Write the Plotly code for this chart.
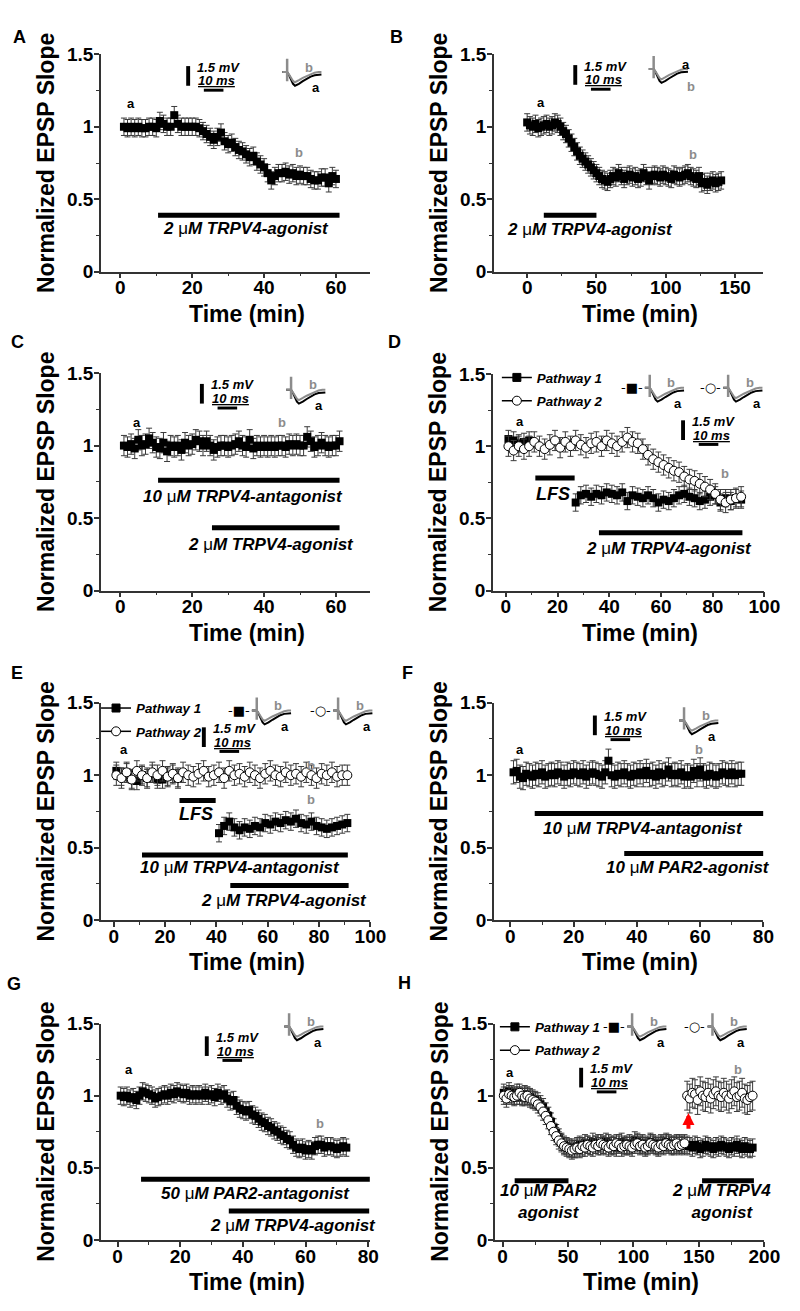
import plotly.graph_objects as go

W, H = 800, 1311
FONT = "Liberation Sans, Arial, Helvetica, sans-serif"
AXIS = "#333333"
ERR = "#3a3a3a"
GRAY = "#8c8c8c"

# ---- recorded values: time (min) and normalized EPSP slope ----
A_time = list(range(1, 61))
A_slope = [1.00, 0.99, 1.00, 0.99, 1.00, 0.99, 0.99, 1.00, 1.00, 0.99,
           1.04, 1.02, 1.00, 1.00, 1.08, 1.02, 1.00, 1.00, 1.00, 1.00,
           1.00, 0.99, 0.97, 0.95, 0.93, 0.91, 0.93, 0.96, 0.90, 0.88,
           0.89, 0.86, 0.84, 0.83, 0.81, 0.79, 0.80, 0.76, 0.74, 0.72,
           0.68, 0.63, 0.66, 0.68, 0.68, 0.69, 0.67, 0.68, 0.66, 0.67,
           0.66, 0.66, 0.64, 0.63, 0.63, 0.65, 0.65, 0.61, 0.66, 0.64]
A_sem = 0.06

B_time = list(range(0, 141, 2))
B_slope = [1.03, 1.01, 1.00, 1.02, 0.99, 1.00, 1.01, 1.02, 1.00, 1.01, 1.03, 1.02, 1.00,
           0.97, 0.95, 0.92, 0.89, 0.86, 0.83, 0.80, 0.78, 0.76, 0.74, 0.72, 0.70,
           0.68, 0.66, 0.64, 0.63, 0.62, 0.64,
           0.66, 0.65, 0.68, 0.66, 0.64, 0.66, 0.67, 0.65, 0.66, 0.64,
           0.65, 0.68, 0.66, 0.63, 0.66, 0.67, 0.66, 0.65, 0.67, 0.66,
           0.65, 0.64, 0.67, 0.66, 0.65, 0.66, 0.67, 0.68, 0.66, 0.65,
           0.64, 0.66,
           0.61, 0.62, 0.60, 0.62, 0.63, 0.61, 0.62, 0.63]
B_sem = 0.06

C_time = list(range(1, 62))
C_slope = [1.00, 0.99, 1.01, 0.98, 1.04, 1.00, 1.01, 1.05, 1.02, 0.99,
           0.98, 1.02, 0.96, 1.00, 0.99, 1.00, 0.97, 1.02, 1.00, 1.01,
           1.04, 1.03, 1.00, 1.03, 1.00, 0.97, 0.99, 1.00, 1.00, 0.99,
           1.00, 1.01, 1.03, 1.00, 0.99, 1.04, 0.98, 1.00, 0.99, 1.00,
           0.99, 1.00, 0.99, 1.00, 1.00, 0.99, 1.01, 1.00, 1.01, 1.00,
           1.00, 1.06, 1.03, 0.99, 1.00, 1.02, 1.00, 0.99, 1.00, 1.00, 1.03]
C_sem = 0.07

D_p1_time = [1, 3, 5, 7, 9] + list(range(27, 92, 2))
D_p1 = [1.05, 1.04, 1.02, 1.03, 1.04,
        0.61, 0.66, 0.67, 0.65, 0.67, 0.66, 0.68, 0.67, 0.66, 0.68,
        0.62, 0.66, 0.65, 0.64, 0.66, 0.64, 0.61, 0.63, 0.62, 0.64,
        0.66, 0.67, 0.65, 0.64, 0.62, 0.63, 0.65, 0.66, 0.61, 0.64,
        0.62, 0.64, 0.63]
D_p2_time = list(range(1, 92, 2))
D_p2 = [1.00, 0.97, 1.00, 0.98, 1.00, 1.03, 1.00, 0.98, 1.01, 1.04,
        0.99, 1.03, 1.00, 1.04, 1.01, 0.99, 1.02, 1.03, 1.00, 1.04,
        1.02, 1.00, 1.03, 1.06, 1.03, 1.02, 0.98, 0.94, 0.91, 0.89,
        0.87, 0.85, 0.83, 0.82, 0.79, 0.77, 0.76, 0.74, 0.72, 0.70,
        0.67, 0.63, 0.61, 0.63, 0.64, 0.65]
D_sem = (0.06, 0.07)

E_p1_time = list(range(1, 26, 2)) + list(range(41, 92, 2))
E_p1 = [1.03, 0.99, 1.02, 0.97, 0.96, 1.00, 0.98, 1.01, 0.97, 0.97, 0.99, 1.01, 0.98,
        0.60, 0.65, 0.68, 0.64, 0.62, 0.64, 0.63, 0.65, 0.64, 0.67,
        0.66, 0.68, 0.67, 0.69, 0.68, 0.70, 0.67, 0.66, 0.68, 0.65,
        0.64, 0.63, 0.64, 0.65, 0.66, 0.67]
E_p2_time = list(range(1, 92, 2))
E_p2 = [1.00, 0.98, 1.02, 0.97, 1.03, 1.00, 0.98, 1.02, 1.00, 1.03,
        0.99, 1.01, 0.98, 1.02, 1.00, 0.99, 1.01, 1.03, 0.99, 1.00,
        1.02, 0.98, 1.03, 1.00, 1.01, 0.99, 1.02, 1.00, 0.98, 1.01,
        1.03, 1.00, 0.99, 1.02, 1.00, 1.01, 0.99, 1.02, 1.00, 0.98,
        1.01, 1.00, 1.02, 0.99, 1.00, 1.00]
E_sem = (0.06, 0.07)

F_time = list(range(1, 74))
F_slope = [1.02, 1.03, 0.99, 0.98, 1.01, 1.00, 0.99, 1.01, 1.00, 1.02,
           0.99, 1.00, 1.01, 1.00, 1.02, 1.01, 0.99, 1.01, 1.00, 1.02,
           1.01, 1.00, 1.02, 0.99, 1.01, 1.02, 1.01, 1.00, 0.99, 1.02,
           1.10, 1.00, 0.99, 1.01, 1.00, 1.02, 1.00, 0.99, 1.01, 1.00,
           1.02, 1.00, 1.03, 1.00, 1.01, 0.99, 1.02, 1.00, 1.01, 1.04,
           1.00, 1.01, 1.00, 1.02, 0.99, 1.00, 0.99, 1.03, 1.00, 1.04,
           1.00, 0.99, 1.01, 1.00, 0.99, 1.00, 1.02, 1.01, 1.00, 1.02,
           1.00, 1.01, 1.01]
F_sem = 0.08

G_time = list(range(1, 74))
G_slope = [1.00, 0.99, 1.00, 0.98, 0.99, 0.97, 1.00, 1.03, 1.02, 1.01,
           1.00, 0.98, 0.99, 1.00, 1.01, 1.00, 1.02, 1.01, 1.03, 1.02,
           1.01, 1.02, 1.00, 1.01, 1.00, 1.01, 1.00, 1.02, 1.00, 1.01,
           0.99, 1.02, 1.00, 1.01, 0.98, 0.96, 0.97, 0.93, 0.91, 0.90,
           0.89, 0.90, 0.87, 0.86, 0.84, 0.82, 0.81, 0.79, 0.78, 0.76,
           0.75, 0.73, 0.72, 0.70, 0.69, 0.66, 0.64, 0.63, 0.64, 0.62,
           0.63, 0.62, 0.65, 0.66, 0.66, 0.64, 0.65, 0.65, 0.64, 0.63,
           0.64, 0.65, 0.64]
G_sem = 0.06

H_time = list(range(1, 192, 2))
H_p1 = [1.02, 1.00, 1.03, 1.01, 1.00, 1.02, 1.00, 0.99, 1.01, 1.00, 0.99, 0.98, 0.97,
        0.96, 0.94, 0.92, 0.89, 0.86, 0.82, 0.78, 0.74, 0.71, 0.68, 0.66, 0.65, 0.64, 0.64, 0.63,
        0.65, 0.66, 0.64, 0.67, 0.66, 0.65, 0.68, 0.66, 0.67, 0.65,
        0.66, 0.68, 0.67, 0.65, 0.66, 0.64, 0.67, 0.68, 0.66, 0.65,
        0.67, 0.66, 0.69, 0.68, 0.66, 0.67, 0.65, 0.66, 0.68, 0.67,
        0.66, 0.65, 0.67, 0.66, 0.68, 0.67, 0.66, 0.65, 0.66, 0.67,
        0.66, 0.65,
        0.66, 0.65, 0.64, 0.66, 0.65, 0.63, 0.64, 0.66, 0.65, 0.64,
        0.63, 0.65, 0.64, 0.66, 0.65, 0.64, 0.63, 0.65, 0.64, 0.66,
        0.64, 0.63, 0.65, 0.64, 0.63, 0.64]
H_p2 = [1.00, 0.98, 1.01, 1.00, 0.99, 1.00, 1.02, 1.00, 0.99, 1.00, 0.98, 0.97, 0.96,
        0.94, 0.92, 0.89, 0.86, 0.83, 0.79, 0.75, 0.72, 0.69, 0.67, 0.65, 0.64, 0.63, 0.62, 0.63,
        0.64, 0.63, 0.65, 0.64, 0.66, 0.65, 0.64, 0.66, 0.65, 0.67,
        0.66, 0.65, 0.64, 0.66, 0.65, 0.67, 0.66, 0.64, 0.65, 0.66,
        0.65, 0.64, 0.66, 0.67, 0.65, 0.66, 0.64, 0.65, 0.67, 0.66,
        0.65, 0.64, 0.66, 0.65, 0.67, 0.66, 0.65, 0.66, 0.67, 0.65,
        0.66, 0.67,
        1.00, 0.98, 1.02, 1.01, 0.97, 1.03, 1.00, 0.99, 1.02, 0.98,
        1.01, 1.03, 1.00, 0.99, 1.02, 1.00, 0.98, 1.01, 1.03, 0.99,
        1.00, 1.02, 0.98, 0.97, 0.99, 1.00]
H_p1_sem = 0.06
H_p2_sem = [0.06] * 70 + [0.10] * 26

# treatments: (label, start min, end min); "|" splits a two-line label
A_treat = [("2 μM TRPV4-agonist", 10.5, 61.0)]
B_treat = [("2 μM TRPV4-agonist", 12.0, 50.0)]
C_treat = [("10 μM TRPV4-antagonist", 10.5, 61.0), ("2 μM TRPV4-agonist", 25.5, 61.0)]
D_treat = [("LFS", 11.4, 26.6), ("2 μM TRPV4-agonist", 36.0, 91.5)]
E_treat = [("LFS", 25.6, 39.7), ("10 μM TRPV4-antagonist", 11.0, 91.2),
           ("2 μM TRPV4-agonist", 45.4, 91.5)]
F_treat = [("10 μM TRPV4-antagonist", 7.7, 80.0), ("10 μM PAR2-agonist", 36.0, 80.0)]
G_treat = [("50 μM PAR2-antagonist", 7.5, 80.5), ("2 μM TRPV4-agonist", 35.5, 80.3)]
H_treat = [("10 μM PAR2|agonist", 9.3, 50.4), ("2 μM TRPV4|agonist", 152.4, 192.0)]

# example EPSP traces (ms, mV) before (a) and after (b) treatment
trace_ms = [-2.5, 0.0, 1.0, 2.0, 3.0, 4.0, 5.0, 6.0, 8.0, 10.0, 12.0, 14.0, 16.0, 17.5]
trace_a_mv = [0.0, 0.0, -0.25, -0.6, -0.9, -1.05, -1.0, -0.9, -0.7, -0.5, -0.35, -0.25, -0.2, -0.2]
trace_b_mv = [0.0, 0.0, -0.2, -0.45, -0.68, -0.78, -0.72, -0.62, -0.45, -0.3, -0.15, -0.05, 0.0, 0.0]
artifact_ms = [0.0, 0.0]
artifact_mv = [1.0, -0.7]


def fx(p):
    return p / W


def fy(p):
    return 1 - p / H


def ax_id(n, kind):
    return kind if n == 1 else f"{kind}{n}"


def ax_key(n, kind):
    return f"{kind}axis" if n == 1 else f"{kind}axis{n}"


def mu(text):
    return text.replace("μ", "</i><span style='font-weight:normal'>μ</span><i>")


# ---- layout of panels (pixel boxes: left, right, top, bottom) ----
geom = {
    "A": dict(n=1, box=(103, 378, 45, 266), xr=[-5.4, 69.6], dt=20, mdt=10, letter=(20, 27)),
    "B": dict(n=2, box=(504, 779, 45, 266), xr=[-24, 170.5], dt=50, mdt=25, letter=(405, 27)),
    "C": dict(n=3, box=(103, 378, 369, 590), xr=[-5.4, 69.6], dt=20, mdt=10, letter=(18, 337)),
    "D": dict(n=4, box=(503, 780, 370, 590), xr=[-5, 100], dt=20, mdt=10, letter=(403, 337)),
    "E": dict(n=5, box=(103, 378, 704, 925), xr=[-5, 100], dt=20, mdt=10, letter=(17, 674)),
    "F": dict(n=6, box=(504, 779, 704, 925), xr=[-5.2, 80], dt=20, mdt=10, letter=(416, 674)),
    "G": dict(n=7, box=(103, 378, 1030, 1250), xr=[-5.3, 80.7], dt=20, mdt=10, letter=(14, 990)),
    "H": dict(n=8, box=(505, 780, 1030, 1250), xr=[-5.8, 200], dt=50, mdt=25, letter=(413, 989)),
}

series = {
    "A": [(A_time, A_slope, A_sem, "square")],
    "B": [(B_time, B_slope, B_sem, "square")],
    "C": [(C_time, C_slope, C_sem, "square")],
    "D": [(D_p1_time, D_p1, D_sem[0], "square"), (D_p2_time, D_p2, D_sem[1], "circle")],
    "E": [(E_p1_time, E_p1, E_sem[0], "square"), (E_p2_time, E_p2, E_sem[1], "circle")],
    "F": [(F_time, F_slope, F_sem, "square")],
    "G": [(G_time, G_slope, G_sem, "square")],
    "H": [(H_time, H_p1, H_p1_sem, "square"), (H_time, H_p2, H_p2_sem, "circle")],
}

treatments = {"A": A_treat, "B": B_treat, "C": C_treat, "D": D_treat,
              "E": E_treat, "F": F_treat, "G": G_treat, "H": H_treat}

# bar level, label x, label y (data units)
treat_place = {
    "A": [(0.39, 35, 0.30)],
    "B": [(0.39, 45, 0.29)],
    "C": [(0.76, 34, 0.65), (0.434, 42, 0.32)],
    "D": [(0.78, 18.4, 0.67), (0.40, 63, 0.29)],
    "E": [(0.826, 32, 0.735), (0.45, 49, 0.36), (0.24, 66.4, 0.136)],
    "F": [(0.735, 42, 0.63), (0.46, 56, 0.36)],
    "G": [(0.42, 44, 0.325), (0.20, 56, 0.10)],
    "H": [(0.41, 35, 0.265), (0.41, 167, 0.265)],
}

# a / b time markers
ab_labels = {
    "A": [("a", 2.9, 1.16), ("b", 49.7, 0.82)],
    "B": [("a", 10, 1.17), ("b", 119.6, 0.81)],
    "C": [("a", 4.5, 1.16), ("b", 45, 1.16)],
    "D": [("a", 5.4, 1.17), ("b", 84.6, 0.81)],
    "E": [("a", 4, 1.18), ("b", 77, 1.07), ("b", 77, 0.83)],
    "F": [("a", 3, 1.18), ("b", 59.6, 1.18)],
    "G": [("a", 3.7, 1.18), ("b", 64.7, 0.81)],
    "H": [("a", 6, 1.16), ("b", 179.6, 1.18)],
}

scale_bars = {"A": (192, 57), "B": (587, 56), "C": (206, 380), "D": (697, 417),
              "E": (208, 729), "F": (607, 717), "G": (211, 1043), "H": (593, 1075)}

# inset anchor: stimulus artifact x, baseline y (px), label order, pathway glyph
insets = [(293, 63, False, None), (667, 60, True, None), (297, 386, False, None),
          (663, 384, False, "■"), (743, 384, False, "○"),
          (262, 712, False, "■"), (345, 712, False, "○"),
          (698, 722, False, None), (295, 1033, False, None),
          (645, 1033, False, "■"), (727, 1033, False, "○")]

legend_pos = {"legend": (507, 358), "legend2": (98, 694), "legend3": (505, 1018)}

fig = go.Figure()
layout = dict(width=W, height=H, margin=dict(l=0, r=0, t=0, b=0),
              paper_bgcolor="white", plot_bgcolor="white",
              font=dict(family=FONT, color="black"), showlegend=True)
shapes, notes = [], []

tickfont = dict(family=FONT, size=19, color="black", weight="bold")
line_style = dict(showline=True, linecolor=AXIS, linewidth=1.5, ticks="outside",
                  ticklen=5, tickwidth=1.5, tickcolor=AXIS, showgrid=False,
                  zeroline=False, tickfont=tickfont)


def paper_text(x, y, text, size=13, color="black", anchor="center", **kw):
    return dict(xref="paper", yref="paper", x=fx(x), y=fy(y), text=text, showarrow=False,
                xanchor=anchor, yanchor="middle", font=dict(size=size, weight="bold", color=color), **kw)


for letter, g in geom.items():
    n = g["n"]
    x0, x1, yt, yb = g["box"]
    xa, ya = ax_id(n, "x"), ax_id(n, "y")
    layout[ax_key(n, "x")] = dict(
        domain=[fx(x0), fx(x1)], range=g["xr"], anchor=ya, tick0=0, dtick=g["dt"],
        ticklabelstandoff=-7,
        minor=dict(tick0=0, dtick=g["mdt"], ticks="outside", ticklen=3,
                   tickcolor=AXIS, tickwidth=1), **line_style)
    layout[ax_key(n, "y")] = dict(
        domain=[fy(yb), fy(yt)], range=[0, 1.5], anchor=xa, tick0=0, dtick=0.5,
        ticklabelstandoff=-3,
        minor=dict(tick0=0, dtick=0.25, ticks="outside", ticklen=3,
                   tickcolor=AXIS, tickwidth=1), **line_style)

    for t, v, sem, sym in series[letter]:
        if isinstance(sem, list):
            err = dict(type="data", array=sem)
        else:
            err = dict(type="constant", value=sem)
        err.update(color=ERR, thickness=1, width=3)
        if sym == "square":
            mk = dict(symbol="square", size=8, color="black", line=dict(width=0))
        else:
            mk = dict(symbol="circle", size=9, color="white", line=dict(color="black", width=1))
        fig.add_trace(go.Scatter(x=t, y=v, mode="markers", marker=mk, error_y=err,
                                 xaxis=xa, yaxis=ya, showlegend=False, cliponaxis=False))

    for (label, start, end), (lvl, tx, ty) in zip(treatments[letter], treat_place[letter]):
        shapes.append(dict(type="line", xref=xa, yref=ya, x0=start, x1=end, y0=lvl, y1=lvl,
                           line=dict(color="black", width=5)))
        size = 18 if label == "LFS" else 17
        text = "<br>".join(mu(f"<i>{part}</i>") for part in label.split("|"))
        notes.append(dict(xref=xa, yref=ya, x=tx, y=ty, text=text, showarrow=False,
                          xanchor="center", yanchor="middle",
                          font=dict(size=size, weight="bold")))

    for txt, tx, ty in ab_labels[letter]:
        notes.append(dict(xref=xa, yref=ya, x=tx, y=ty, text=txt, showarrow=False,
                          xanchor="center", yanchor="middle",
                          font=dict(size=13, weight="bold", color="black" if txt == "a" else GRAY)))

    # scale bar
    bx, by = scale_bars[letter]
    shapes.append(dict(type="rect", xref="paper", yref="paper", x0=fx(bx - 2), x1=fx(bx + 2),
                       y0=fy(by + 20), y1=fy(by), fillcolor="black", line=dict(width=0)))
    shapes.append(dict(type="rect", xref="paper", yref="paper", x0=fx(bx + 16), x1=fx(bx + 36),
                       y0=fy(by + 26), y1=fy(by + 23), fillcolor="black", line=dict(width=0)))
    notes.append(paper_text(bx + 7, by + 1, "<i>1.5 mV</i>", anchor="left"))
    notes.append(paper_text(bx + 8, by + 15, "<i><u>10 ms</u></i>", anchor="left"))

    # titles and panel letter
    notes.append(paper_text((x0 + x1) / 2 + 12, yb + 43, "Time (min)", size=23))
    notes.append(paper_text(x0 - 56, (yt + yb) / 2, "Normalized EPSP Slope", size=23,
                            textangle=-90))
    lx, ly = g["letter"]
    notes.append(paper_text(lx, ly, letter, size=18))

# pathway legends
for leg, (lx, ly) in legend_pos.items():
    layout[leg] = dict(x=fx(lx), y=fy(ly), xanchor="left", yanchor="top",
                       bgcolor="rgba(0,0,0,0)", borderwidth=0, itemwidth=30,
                       tracegroupgap=3, font=dict(size=13.3, weight="bold"))
leg_axes = {"legend": "4", "legend2": "5", "legend3": "8"}
for leg, n in leg_axes.items():
    for k, (sym, fill) in enumerate([("square", "black"), ("circle", "white")]):
        fig.add_trace(go.Scatter(
            x=[None], y=[None], mode="lines+markers", name=f"<i>Pathway {k + 1}</i>",
            legend=leg, legendgroup=f"{leg}{k}", xaxis=f"x{n}", yaxis=f"y{n}",
            line=dict(color="black", width=1.5),
            marker=dict(symbol=sym, size=9 if sym == "circle" else 8, color=fill,
                        line=dict(color="black", width=1))))

# example traces insets
for i, (ax_x, base_y, swap, glyph) in enumerate(insets):
    n = 9 + i
    xa, ya = ax_id(n, "x"), ax_id(n, "y")
    layout[ax_key(n, "x")] = dict(domain=[fx(ax_x - 6), fx(ax_x + 36)], range=[-3, 18],
                                  anchor=ya, visible=False)
    layout[ax_key(n, "y")] = dict(domain=[fy(base_y + 16), fy(base_y - 16)], range=[-1.2, 1.2],
                                  anchor=xa, visible=False)
    fig.add_trace(go.Scatter(x=trace_ms, y=trace_a_mv, mode="lines", xaxis=xa, yaxis=ya,
                             line=dict(color="black", width=2), showlegend=False))
    fig.add_trace(go.Scatter(x=trace_ms, y=trace_b_mv, mode="lines", xaxis=xa, yaxis=ya,
                             line=dict(color=GRAY, width=2), showlegend=False))
    fig.add_trace(go.Scatter(x=artifact_ms, y=artifact_mv, mode="lines", xaxis=xa, yaxis=ya,
                             line=dict(color=GRAY, width=2.5), showlegend=False))
    if swap:
        pos = [("a", ax_x + 33, base_y - 5, "black"), ("b", ax_x + 38, base_y + 18, GRAY)]
    else:
        pos = [("b", ax_x + 22, base_y - 5, GRAY), ("a", ax_x + 29, base_y + 16, "black")]
    for txt, px, py, col in pos:
        notes.append(paper_text(px, py, txt, color=col))
    if glyph:
        notes.append(dict(xref="paper", yref="paper", x=fx(ax_x - 18), y=fy(base_y), text=f"-{glyph}-",
                          showarrow=False, xanchor="center", yanchor="middle",
                          font=dict(family="DejaVu Sans", size=13, color="black")))

# re-normalization arrow in H
notes.append(dict(xref="x8", yref="y8", axref="x8", ayref="y8", x=142, y=0.88, ax=142, ay=0.76,
                  text="", showarrow=True, arrowhead=2, arrowsize=0.6, arrowwidth=4,
                  arrowcolor="red"))

layout["shapes"] = shapes
layout["annotations"] = notes
fig.update_layout(**layout)
fig.write_html("out.html", config={"displayModeBar": False},
               post_script="document.body.style.margin='0';document.body.style.padding='0';"
                           "document.documentElement.style.overflow='hidden';")
